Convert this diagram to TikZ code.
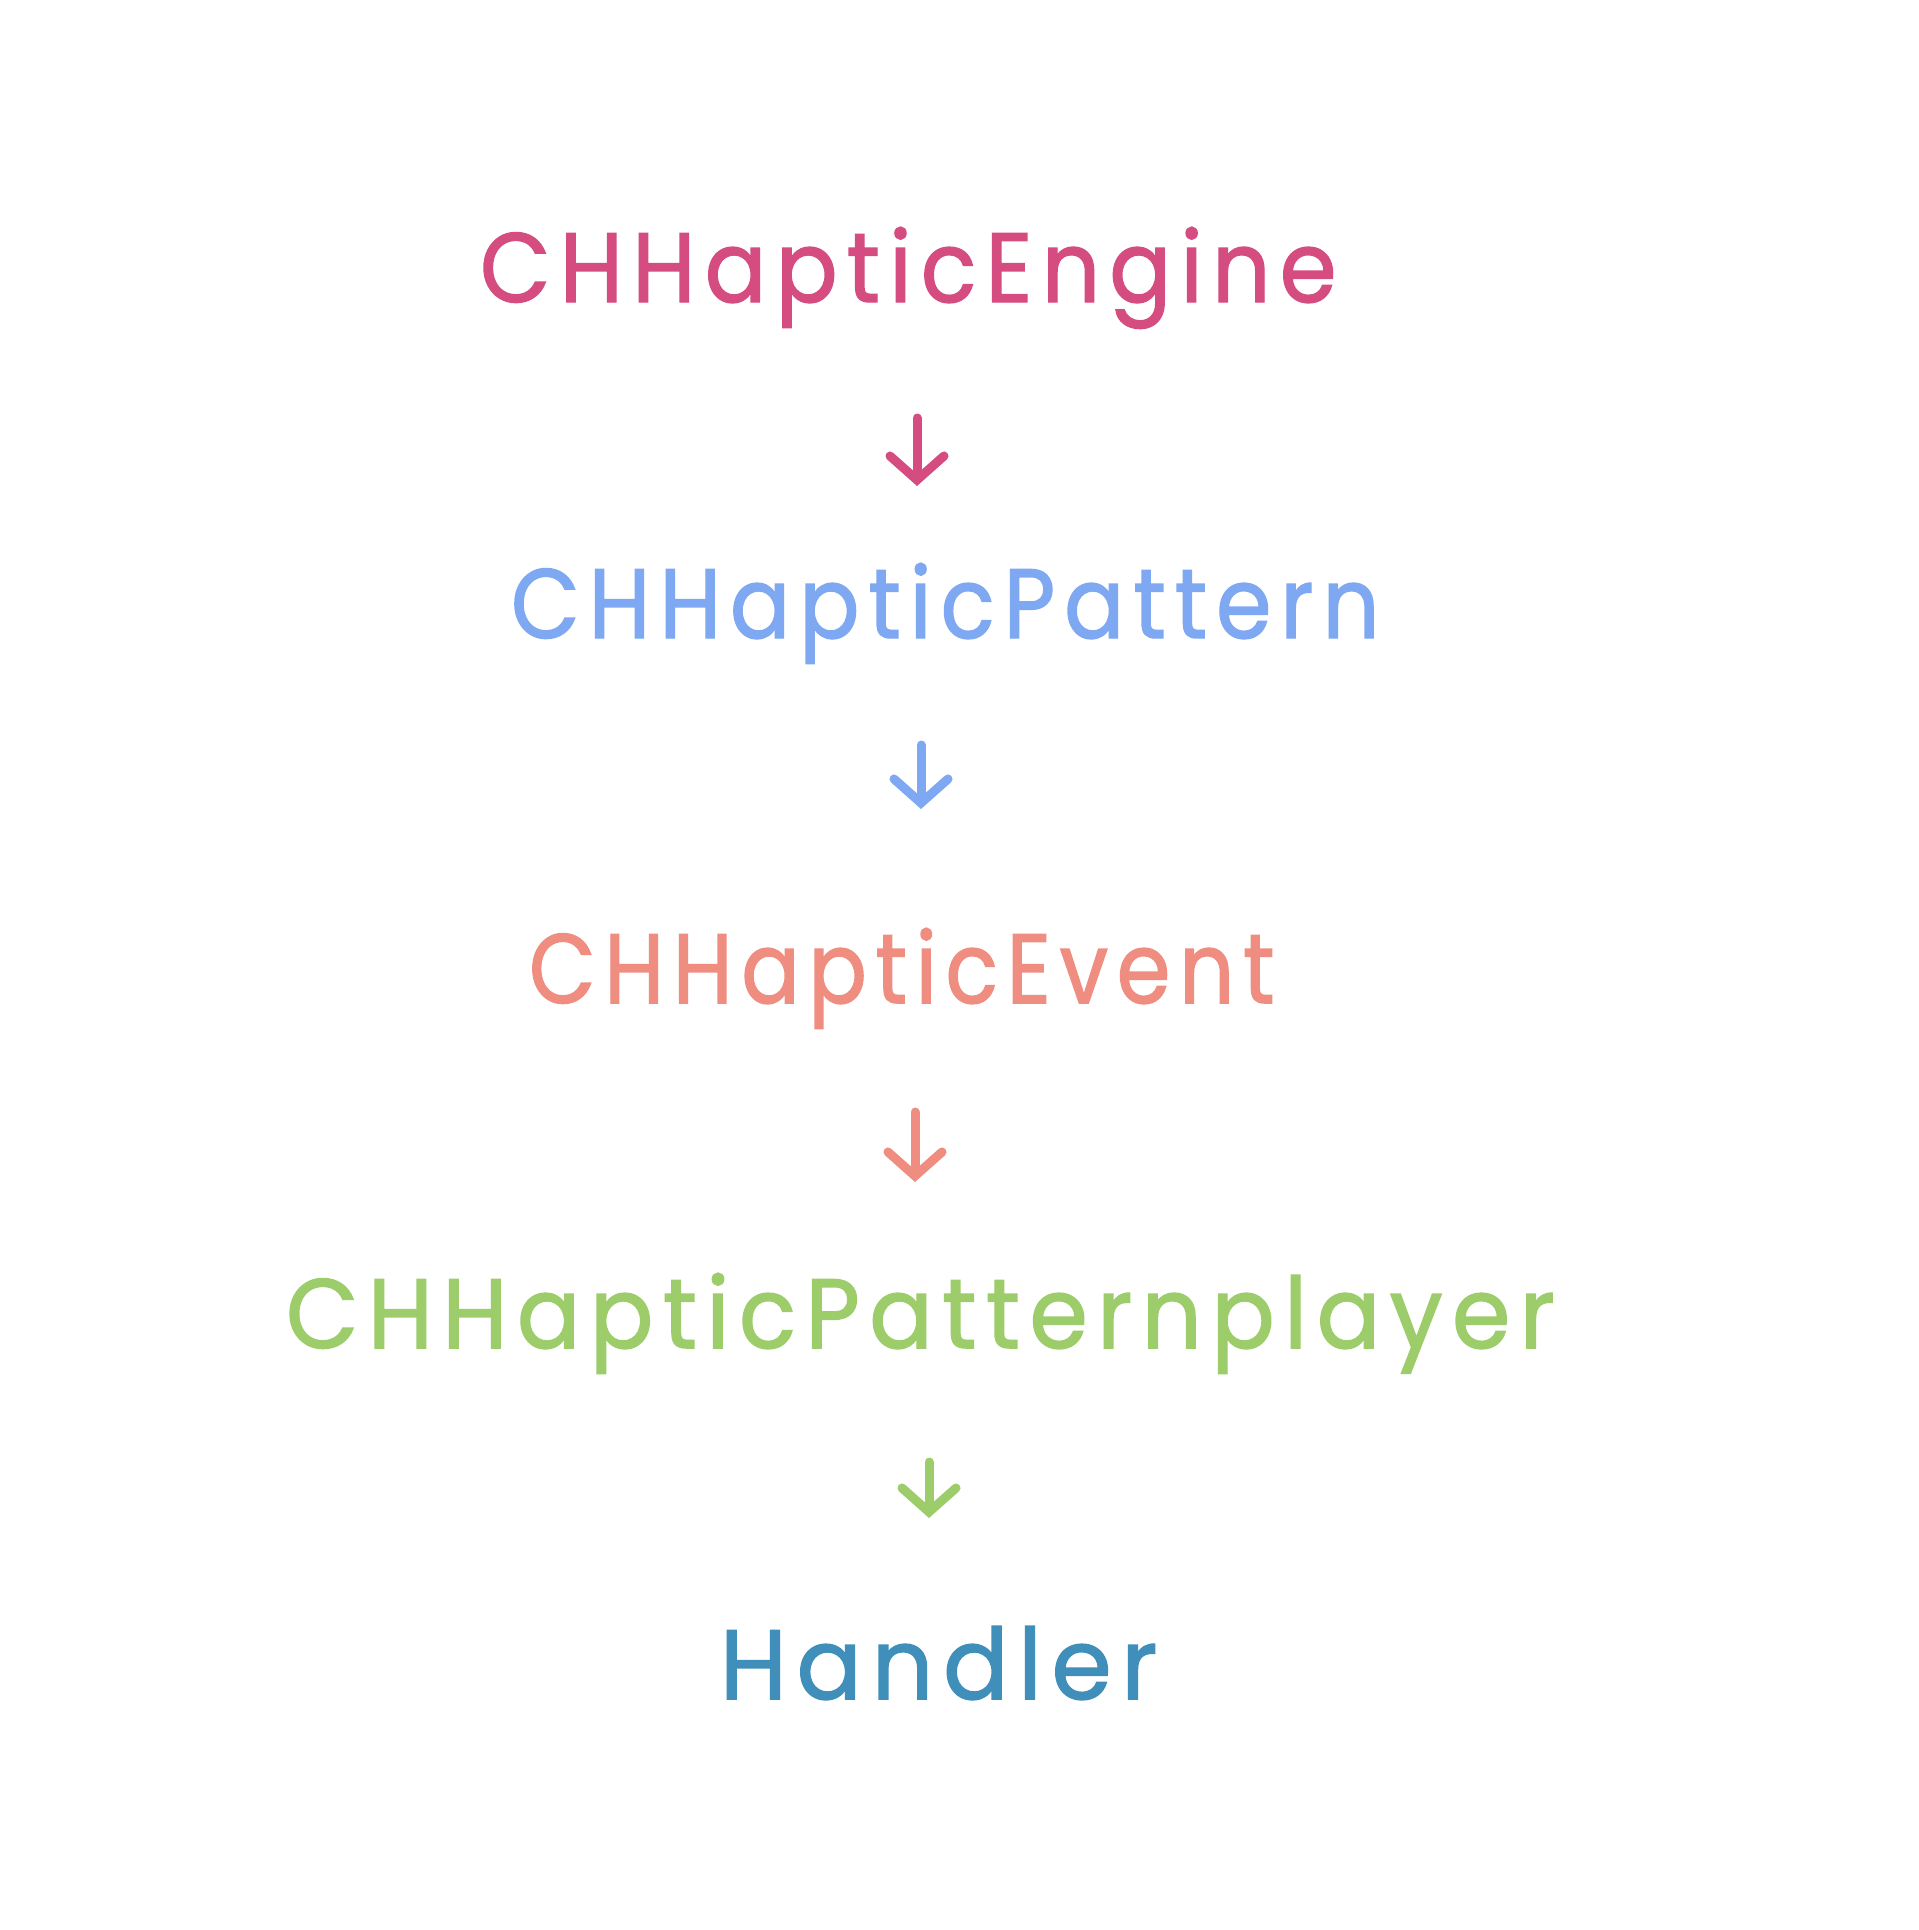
\documentclass[tikz,border=0pt]{standalone}
\usepackage{fontspec}
\setmainfont{Poppins}[LetterSpace=10, FakeBold=1.5]
\usetikzlibrary{arrows.meta}
\definecolor{cEngine}{HTML}{D54C80}
\definecolor{cPattern}{HTML}{7FA8F2}
\definecolor{cEvent}{HTML}{EF8E80}
\definecolor{cPlayer}{HTML}{9CCD6A}
\definecolor{cHandler}{HTML}{3F8FBA}
\tikzset{
  lbl/.style={anchor=base west, inner sep=0pt, outer sep=0pt, font=\fontsize{28}{32}\selectfont},
  darrow/.style={line width=0.09cm, line cap=round, line join=round,
    -{Straight Barb[length=2.4mm,width=5.4mm,line cap=round]}}
}
\newcommand{\fitw}[2]{\resizebox{#1}{\height}{#2}}
\begin{document}
\begin{tikzpicture}[x=0.01cm,y=-0.01cm]
\useasboundingbox[fill=white] (0,0) rectangle (1919,1930);
\node[lbl, text=cEngine]  (engine)  at (480,302)  {\fitw{8.56cm}{CHHapticEngine}};
\node[lbl, text=cPattern] (pattern) at (511,638)  {\fitw{8.68cm}{CHHapticPattern}};
\node[lbl, text=cEvent]   (event)   at (529,1003) {\fitw{7.45cm}{CHHapticEvent}};
\node[lbl, text=cPlayer]  (player)  at (286,1348) {\fitw{12.68cm}{CHHapticPatternplayer}};
\node[lbl, text=cHandler] (handler) at (720,1699) {\fitw{4.37cm}{Handler}};
\coordinate (a1s) at (917,418);  \coordinate (a1e) at (917,486);
\coordinate (a2s) at (921,745);  \coordinate (a2e) at (921,809);
\coordinate (a3s) at (915,1112); \coordinate (a3e) at (915,1182);
\coordinate (a4s) at (929,1462); \coordinate (a4e) at (929,1518);
\draw[darrow, cEngine]  (a1s) -- (a1e);
\draw[darrow, cPattern] (a2s) -- (a2e);
\draw[darrow, cEvent]   (a3s) -- (a3e);
\draw[darrow, cPlayer]  (a4s) -- (a4e);
\end{tikzpicture}
\end{document}
